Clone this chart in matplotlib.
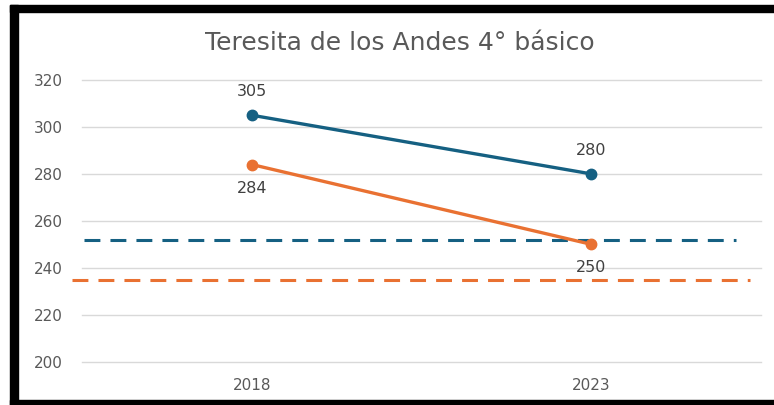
import matplotlib.pyplot as plt
from matplotlib.patches import Rectangle

# data
years = ["2018", "2023"]
school_a = [305, 280]      # blue series
school_b = [284, 250]      # orange series
ref_a = 252                # blue dashed reference
ref_b = 235                # orange dashed reference
yticks = [200, 220, 240, 260, 280, 300, 320]

blue = "#156082"
orange = "#E97132"
gray = "#595959"

plt.rcParams["font.family"] = "DejaVu Sans"

fig = plt.figure(figsize=(7.74, 4.05), dpi=100)
ax = fig.add_axes([82 / 774, 1 - 361.7 / 405, (761 - 82) / 774, (361.7 - 80) / 405])

x = list(range(len(years)))

# grid
for t in yticks:
    ax.axhline(t, color="#D9D9D9", lw=1.0, zorder=0, clip_on=False)

# reference dashed lines (span slightly different widths like the original)
ax.plot([-0.494, 1.426], [ref_a, ref_a], color=blue, lw=2.2,
        linestyle=(0, (5.2, 3.3)), zorder=2)
ax.plot([-0.53, 1.468], [ref_b, ref_b], color=orange, lw=2.2,
        linestyle=(0, (5.2, 3.3)), zorder=2, clip_on=False)

# series
ax.plot(x, school_a, color=blue, lw=2.4, marker="o", markersize=7.5, zorder=3)
ax.plot(x, school_b, color=orange, lw=2.4, marker="o", markersize=7.5, zorder=3)

lab = dict(ha="center", va="center", fontsize=11.5, color="#404040")
for xi, v in zip(x, school_a):
    ax.annotate(str(v), (xi, v), xytext=(0, 17), textcoords="offset points", **lab)
for xi, v in zip(x, school_b):
    ax.annotate(str(v), (xi, v), xytext=(0, -17), textcoords="offset points", **lab)

ax.set_xlim(-0.5, 1.5)
ax.set_ylim(200, 320)
ax.set_xticks(x)
ax.set_xticklabels(years)
ax.set_yticks(yticks)
ax.tick_params(length=0, labelsize=11, labelcolor=gray)
ax.tick_params(axis="y", pad=14)
ax.tick_params(axis="x", pad=12)
for s in ax.spines.values():
    s.set_visible(False)

fig.text(400 / 774, 1 - 50 / 405, "Teresita de los Andes 4° básico",
         ha="center", va="baseline", fontsize=18, color=gray)

# black frame (left, top, bottom)
W, H = 774, 405
fig.patches.append(Rectangle((10 / W, 0), 8 / W, 1 - 5 / H, transform=fig.transFigure,
                             color="black", zorder=10))
fig.patches.append(Rectangle((10 / W, 1 - 12 / H), 1, 7 / H, transform=fig.transFigure,
                             color="black", zorder=10))
fig.patches.append(Rectangle((10 / W, 0), 1, 5 / H, transform=fig.transFigure,
                             color="black", zorder=10))

fig.savefig("out.png", dpi=100)
